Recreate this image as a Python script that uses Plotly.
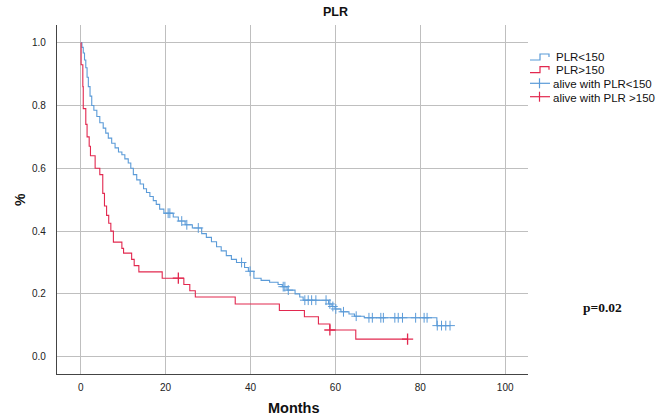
import plotly.graph_objects as go

# ---- data ----
blue_t = [0, 0.3, 0.6, 0.9, 1.2, 1.5, 1.8, 2.2, 2.6, 3.1, 3.8, 4.5, 5.3, 5.9, 6.5, 7.3, 8.1, 8.9,
          9.7, 10.4, 11.2, 11.8, 12.4, 13.2, 14.0, 14.8, 15.5, 16.3, 17.1, 17.8, 18.6, 19.6, 21.8,
          23.0, 24.6, 26.3, 28.5, 29.6, 30.8, 32.0, 33.1, 34.3, 35.5, 36.7, 38.6, 39.5, 40.8, 42.5,
          44.5, 46.5, 47.5, 48.6, 50.5, 51.6, 52.4, 58.4, 59.2, 59.9, 61.3, 63.2, 64.5, 66.8, 83.9, 87.0]
blue_s = [1.0, 0.985, 0.967, 0.945, 0.92, 0.89, 0.86, 0.83, 0.80, 0.785, 0.765, 0.745, 0.728, 0.712,
          0.696, 0.68, 0.665, 0.652, 0.643, 0.63, 0.617, 0.60, 0.58, 0.563, 0.55, 0.535, 0.523, 0.51,
          0.497, 0.485, 0.47, 0.457, 0.445, 0.432, 0.42, 0.41, 0.392, 0.38, 0.366, 0.35, 0.337, 0.322,
          0.31, 0.30, 0.284, 0.272, 0.25, 0.243, 0.237, 0.23, 0.223, 0.212, 0.20, 0.19, 0.18, 0.168,
          0.16, 0.152, 0.143, 0.136, 0.129, 0.124, 0.099, 0.099]
blue_cens_t = [20.6, 21.0, 23.8, 25.0, 27.7, 37.9, 39.9, 47.7, 48.1, 48.9, 52.8, 53.6, 54.4, 55.4,
               57.8, 58.7, 59.4, 60.1, 61.9, 64.9, 67.9, 68.7, 70.7, 71.3, 74.0, 74.8, 75.8, 78.9,
               80.9, 81.6, 84.0, 85.0, 86.0, 87.0]
blue_cens_s = [0.457, 0.457, 0.432, 0.42, 0.41, 0.30, 0.272, 0.223, 0.223, 0.212, 0.18, 0.18, 0.18,
               0.18, 0.18, 0.168, 0.16, 0.152, 0.143, 0.129, 0.124, 0.124, 0.124, 0.124, 0.124, 0.124,
               0.124, 0.124, 0.124, 0.124, 0.099, 0.099, 0.099, 0.099]

red_t = [0, 0.1, 0.5, 0.6, 1.2, 1.5, 2.0, 2.3, 3.4, 4.5, 5.2, 5.6, 6.1, 6.6, 7.1, 7.7, 9.7, 10.1,
         12.0, 12.6, 13.7, 19.2, 24.3, 25.7, 27.0, 36.4, 46.8, 52.7, 56.0, 58.7, 64.8, 77.0]
red_s = [1.0, 0.93, 0.86, 0.79, 0.74, 0.70, 0.67, 0.64, 0.60, 0.58, 0.52, 0.48, 0.45, 0.425, 0.40,
         0.365, 0.345, 0.33, 0.31, 0.29, 0.27, 0.25, 0.23, 0.21, 0.19, 0.168, 0.147, 0.127, 0.104,
         0.085, 0.056, 0.056]
red_cens_t = [23.0, 58.7, 77.0]
red_cens_s = [0.25, 0.085, 0.056]

x_ticks = [0, 20, 40, 60, 80, 100]
y_ticks = [0.0, 0.2, 0.4, 0.6, 0.8, 1.0]
legend_labels = ["PLR<150", "PLR>150", "alive with PLR<150", "alive with PLR >150"]

BLUE = "#5b9bd8"
RED = "#e2284f"
FONT = "Liberation Sans, Arial, sans-serif"

W, H = 670, 417
L, R, T, B = 57, 528, 25, 374  # plot area in pixels


def px(x):
    return (x - L) / (R - L)


def py(y):
    return (B - y) / (B - T)


fig = go.Figure()
fig.add_trace(go.Scatter(x=blue_t, y=blue_s, mode="lines", line=dict(color=BLUE, width=1.1, shape="hv"),
                         showlegend=False, hoverinfo="skip"))
fig.add_trace(go.Scatter(x=red_t, y=red_s, mode="lines", line=dict(color=RED, width=1.1, shape="hv"),
                         showlegend=False, hoverinfo="skip"))
fig.add_trace(go.Scatter(x=blue_cens_t, y=blue_cens_s, mode="markers",
                         marker=dict(symbol="cross-thin", size=7, line=dict(color=BLUE, width=1)),
                         showlegend=False, hoverinfo="skip"))
fig.add_trace(go.Scatter(x=red_cens_t, y=red_cens_s, mode="markers",
                         marker=dict(symbol="cross-thin", size=8, line=dict(color=RED, width=1.3)),
                         showlegend=False, hoverinfo="skip"))

shapes = []
# step icons
for (ylow, yhigh, col) in [(60, 54, BLUE), (72.7, 66.7, RED)]:
    path = "M {} {} L {} {} L {} {} L {} {} L {} {}".format(
        px(530), py(ylow), px(540), py(ylow), px(540), py(yhigh), px(549), py(yhigh), px(549), py(yhigh + 3))
    shapes.append(dict(type="path", xref="paper", yref="paper", path=path,
                       line=dict(color=col, width=1.2)))
# cross icons
for (yc, col) in [(83.3, BLUE), (96.7, RED)]:
    shapes.append(dict(type="line", xref="paper", yref="paper", x0=px(530), x1=px(550), y0=py(yc), y1=py(yc),
                       line=dict(color=col, width=1.2)))
    shapes.append(dict(type="line", xref="paper", yref="paper", x0=px(539.5), x1=px(539.5), y0=py(yc - 5),
                       y1=py(yc + 5), line=dict(color=col, width=1.2)))

annotations = []
for (lab, xx, yy) in zip(legend_labels, [554, 554, 551, 551], [56.5, 70.5, 84.3, 98]):
    annotations.append(dict(text=lab, xref="paper", yref="paper", x=px(xx), y=py(yy), xanchor="left",
                            yanchor="middle", showarrow=False, font=dict(family=FONT, size=11.5, color="#111")))
annotations.append(dict(text="<b>PLR</b>", xref="paper", yref="paper", x=px(335), y=py(12), xanchor="center",
                        yanchor="middle", showarrow=False, font=dict(family=FONT, size=12.5, color="#111")))
annotations.append(dict(text="<b>p=0.02</b>", xref="paper", yref="paper", x=px(602), y=py(307), xanchor="center",
                        yanchor="middle", showarrow=False,
                        font=dict(family="Liberation Serif, Times New Roman, serif", size=13.5, color="#111")))
annotations.append(dict(text="<b>%</b>", xref="paper", yref="paper", x=px(20), y=py(200), xanchor="center",
                        yanchor="middle", showarrow=False, textangle=-90,
                        font=dict(family=FONT, size=14, color="#111")))
annotations.append(dict(text="<b>Months</b>", xref="paper", yref="paper", x=px(294), y=py(408), xanchor="center",
                        yanchor="middle", showarrow=False, font=dict(family=FONT, size=14.5, color="#111")))

fig.update_layout(
    width=W, height=H,
    margin=dict(l=L, r=W - R, t=T, b=H - B, pad=0),
    paper_bgcolor="white", plot_bgcolor="white",
    shapes=shapes, annotations=annotations,
    xaxis=dict(range=[(L - 80.7) / 4.245, (R - 80.7) / 4.245], tickvals=x_ticks,
               ticktext=[str(v) for v in x_ticks], showgrid=True, gridcolor="#bfbfbf", gridwidth=1,
               zeroline=False, showline=True, linecolor="#444", linewidth=1.3, ticks="",
               tickfont=dict(family=FONT, size=10, color="#222"), ticklabelstandoff=4),
    yaxis=dict(range=[(356.7 - B) / 314, (356.7 - T) / 314], tickvals=y_ticks,
               ticktext=["{:.1f}".format(v) for v in y_ticks], showgrid=True, gridcolor="#bfbfbf",
               gridwidth=1, zeroline=False, showline=True, linecolor="#444", linewidth=1.3, ticks="",
               tickfont=dict(family=FONT, size=10, color="#222"), ticklabelstandoff=8),
    showlegend=False,
)

fig.write_html("out.html")
